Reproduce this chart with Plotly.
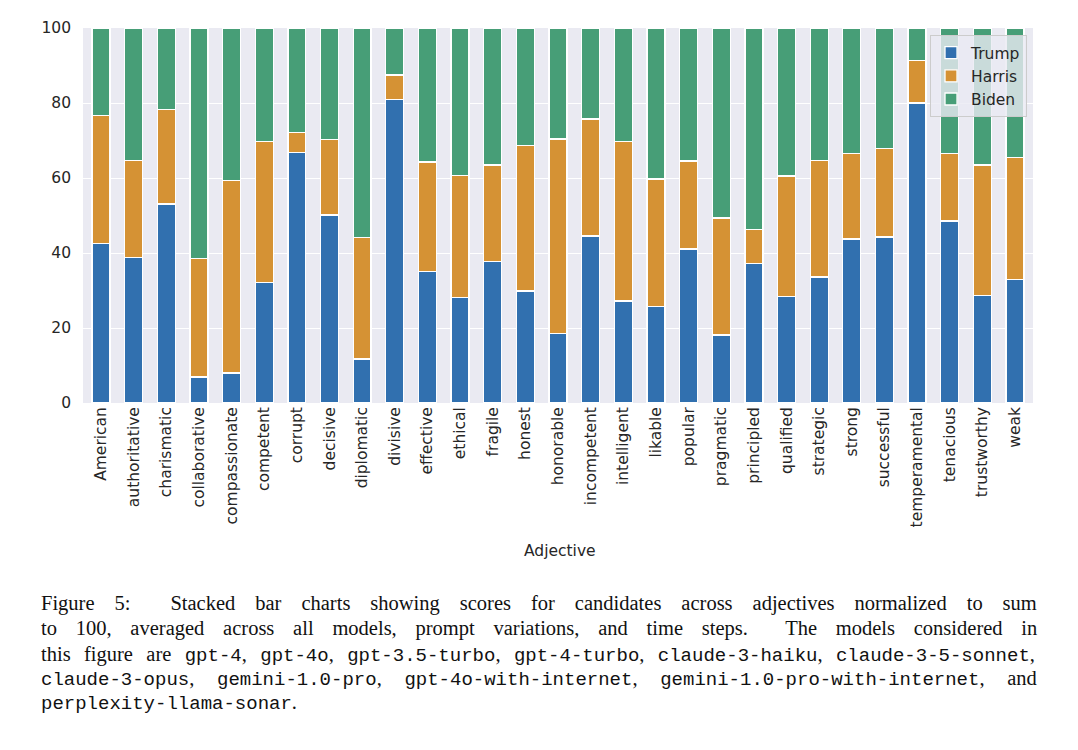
import plotly.graph_objects as go

adjectives = ["American", "authoritative", "charismatic", "collaborative", "compassionate",
              "competent", "corrupt", "decisive", "diplomatic", "divisive", "effective",
              "ethical", "fragile", "honest", "honorable", "incompetent", "intelligent",
              "likable", "popular", "pragmatic", "principled", "qualified", "strategic",
              "strong", "successful", "temperamental", "tenacious", "trustworthy", "weak"]

trump = [42.5, 38.8, 53.1, 6.9, 8.0, 32.1, 66.8, 50.1, 11.7, 80.9, 35.0, 28.2, 37.8, 29.9,
         18.5, 44.5, 27.2, 25.8, 41.1, 18.1, 37.2, 28.4, 33.6, 43.7, 44.3, 80.0, 48.5, 28.7, 32.9]
harris = [34.2, 25.8, 25.2, 31.7, 51.3, 37.6, 5.4, 20.1, 32.4, 6.6, 29.3, 32.4, 25.7, 38.7,
          51.9, 31.2, 42.5, 33.9, 23.4, 31.2, 9.0, 32.1, 31.0, 22.8, 23.6, 11.3, 18.1, 34.8, 32.6]
biden = [round(100 - t - h, 1) for t, h in zip(trump, harris)]

series_names = ["Trump", "Harris", "Biden"]
series_colors = ["#3170AF", "#D59234", "#479E77"]
yticks = [0, 20, 40, 60, 80, 100]

W, H = 1078, 750
L, R, T, B = 83, 45, 28, 347
plot_h = H - T - B
plot_w = W - L - R

fig = go.Figure()
for name, vals, col in zip(series_names, [trump, harris, biden], series_colors):
    fig.add_trace(go.Bar(
        x=list(range(len(adjectives))), y=vals, name=name,
        marker=dict(color=col, line=dict(color="white", width=1.3)),
        width=0.55,
    ))

def px_to_paper(px, py):
    return (px - L) / plot_w, (H - B - py) / plot_h

ann = []
# x-axis title
xa, ya = px_to_paper(560, 551)
ann.append(dict(text="Adjective", x=xa, y=ya, xref="paper", yref="paper",
                showarrow=False, xanchor="center", yanchor="middle",
                font=dict(family="DejaVu Sans", size=15.5, color="#262626")))

SERIF = "Liberation Serif"
MONO = "Liberation Mono"

def seg(text, ws, mono=False):
    fam = MONO if mono else SERIF
    size = 19 if mono else 20.5
    return ('<span style="font-family:\'%s\';font-size:%spx;word-spacing:%spx">%s</span>'
            % (fam, size, ws, text))

def line(parts, ws):
    return "".join(seg(t, ws, m) for t, m in parts)

caption_parts = [
    ([("Figure 5:&nbsp; Stacked bar charts showing scores for candidates across adjectives normalized to sum", False)], 14.85),
    ([("to 100, averaged across all models, prompt variations, and time steps.&nbsp; The models considered in", False)], 13.65),
    ([("this figure are ", False), ("gpt-4", True), (", ", False), ("gpt-4o", True), (", ", False),
      ("gpt-3.5-turbo", True), (", ", False), ("gpt-4-turbo", True), (", ", False),
      ("claude-3-haiku", True), (", ", False), ("claude-3-5-sonnet", True), (",", False)], 8.25),
    ([("claude-3-opus", True), (", ", False), ("gemini-1.0-pro", True), (", ", False),
      ("gpt-4o-with-internet", True), (", ", False), ("gemini-1.0-pro-with-internet", True),
      (", and", False)], 17.5),
    ([("perplexity-llama-sonar", True), (".", False)], 0),
]
line_y = [603, 628, 655, 679, 703]
for (parts, ws), py in zip(caption_parts, line_y):
    xa, ya = px_to_paper(39, py)
    ann.append(dict(text=line(parts, ws), x=xa, y=ya, xref="paper", yref="paper",
                    showarrow=False, xanchor="left", yanchor="middle",
                    font=dict(family=SERIF, size=20.5, color="#111111")))

fig.update_layout(
    width=W, height=H,
    margin=dict(l=L, r=R, t=T, b=B, pad=0),
    paper_bgcolor="white", plot_bgcolor="#EAEAF2",
    barmode="stack",
    font=dict(family="DejaVu Sans", size=15.5, color="#262626"),
    xaxis=dict(
        tickmode="array", tickvals=list(range(len(adjectives))), ticktext=adjectives,
        tickangle=-90, range=[-0.55, len(adjectives) - 0.45],
        showgrid=False, zeroline=False, showline=False, ticks="",
        tickfont=dict(size=15.5, color="#262626"),
    ),
    yaxis=dict(
        tickmode="array", tickvals=yticks, range=[0, 100],
        showgrid=True, gridcolor="white", gridwidth=1.2, zeroline=False,
        showline=False, ticks="", ticklabelstandoff=11,
        tickfont=dict(size=15.5, color="#262626"),
    ),
    legend=dict(
        x=0.9937, y=0.981, xanchor="right", yanchor="top",
        bgcolor="rgba(234,234,242,0.8)", bordercolor="#CCCCCC", borderwidth=1,
        font=dict(size=15.5, color="#262626"), traceorder="normal",
        itemwidth=30,
    ),
    annotations=ann,
    showlegend=True,
)

fig.write_html("out.html")
